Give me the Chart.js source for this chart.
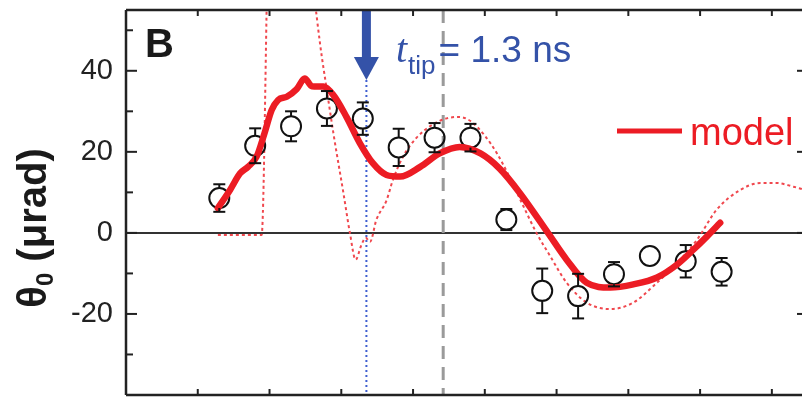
<!DOCTYPE html>
<html>
<head>
<meta charset="utf-8">
<script src="https://cdn.jsdelivr.net/npm/chart.js@4/dist/chart.umd.min.js"></script>
<style>
  html, body { margin: 0; padding: 0; background: #fff; }
  #wrap { width: 802px; height: 397px; }
</style>
</head>
<body>
<div id="wrap"><canvas id="chart"></canvas></div>
<script>
// measured points (open circles)
const dataX = [1.3, 1.8, 2.3, 2.8, 3.3, 3.8, 4.3, 4.8, 5.3, 5.8, 6.3, 6.8, 7.3, 7.8, 8.3]
const dataY = [8.6, 21.5, 26.3, 30.7, 28.2, 21.1, 23.5, 23.5, 3.3, -14.3, -15.6, -10.2, -5.7, -7.0, -9.6]
const dataErr = [3.4, 4.3, 3.7, 4.3, 4.0, 4.6, 3.6, 3.4, 2.6, 5.5, 5.5, 3.0, 2.0, 4.0, 3.4]

// model (thick red)
const modelX = [1.28, 1.45, 1.59, 1.70, 1.82, 1.93, 2.03, 2.12, 2.24, 2.38, 2.49, 2.59, 2.75, 2.89, 3.07, 3.26, 3.44, 3.63, 3.82, 4.10, 4.37, 4.65, 4.94, 5.21, 5.49, 5.88, 6.14, 6.42, 6.75, 7.07, 7.40, 7.68, 7.91, 8.10, 8.28]
const modelY = [6.1, 10.6, 14.7, 16.3, 18.8, 24.6, 30.3, 32.8, 33.6, 35.5, 38.1, 36.2, 36.1, 34.0, 28.7, 22.1, 17.2, 14.3, 13.9, 16.3, 19.6, 21.2, 19.6, 15.8, 9.8, 0, -6.6, -12.3, -13.5, -12.7, -11.0, -7.8, -4.1, -0.8, 2.5]

// dotted red curve
const calcX = [1.28, 1.5, 1.7, 1.89, 2.0, 2.4, 2.75, 2.89, 3.03, 3.12, 3.20, 3.28, 3.34, 3.40, 3.49, 3.63, 3.72, 3.86, 4.05, 4.28, 4.5, 4.65, 4.8, 5.0, 5.17, 5.31, 5.54, 5.72, 5.91, 6.14, 6.42, 6.75, 7.07, 7.35, 7.68, 7.96, 8.23, 8.56, 8.84, 9.07, 9.30, 9.42]
const calcY = [-0.5, -0.5, -0.5, -0.5, 80, 80, 40.9, 24.6, 9.8, 0, -6.6, -3, -1.2, -2.2, 3.3, 8, 13.1, 18.8, 23.5, 26.8, 28.4, 28.6, 27.6, 24, 19.6, 15, 6.5, 0, -5.7, -12.3, -17.2, -18.8, -17.2, -13.1, -7.4, -1.6, 5.7, 10.6, 12.3, 12.3, 11.4, 10.8]

const xTicks = [1, 2, 3, 4, 5, 6, 7, 8, 9]
const yMajorTicks = [40, 20, 0, -20]
const yMinorTicks = [50, 30, 10, -10, -30]

const tipTime = 3.35
const tipArrowBase = 43.4
const tipArrowEnd = 37.7
const markerTime = 4.42

const RED = '#ec1c24'
const BLUE = '#3452a8'
const FONT = '"Liberation Sans", Arial, sans-serif'

const toPoints = (xs, ys) => xs.map((x, i) => ({ x, y: ys[i] }))

const line = (ctx, x1, y1, x2, y2) => {
  ctx.beginPath()
  ctx.moveTo(x1, y1)
  ctx.lineTo(x2, y2)
  ctx.stroke()
}

// no extra room for tick labels, the layout is fixed
const noPad = (s) => {
  s.paddingTop = 0
  s.paddingBottom = 0
  s.paddingLeft = 0
  s.paddingRight = 0
}

const decorPlugin = {
  id: 'decor',
  beforeDatasetsDraw(chart) {
    const { ctx, chartArea: a, scales: { x, y } } = chart
    ctx.save()
    ctx.strokeStyle = '#9a9a9a'
    ctx.lineWidth = 3
    ctx.setLineDash([13, 8])
    const gx = x.getPixelForValue(markerTime)
    line(ctx, gx, a.top, gx, a.bottom)

    ctx.strokeStyle = '#3f5fd0'
    ctx.lineWidth = 2
    ctx.setLineDash([2, 3])
    const bx = x.getPixelForValue(tipTime)
    line(ctx, bx, y.getPixelForValue(tipArrowEnd), bx, a.bottom)
    ctx.restore()
  },
  afterDatasetsDraw(chart) {
    const { ctx, chartArea: a, scales: { x, y } } = chart
    ctx.save()

    // error bars, outside the circles only
    ctx.strokeStyle = '#111'
    ctx.lineWidth = 2
    const r = 10
    dataX.forEach((dx, i) => {
      const px = x.getPixelForValue(dx)
      const py = y.getPixelForValue(dataY[i])
      const top = y.getPixelForValue(dataY[i] + dataErr[i])
      const bot = y.getPixelForValue(dataY[i] - dataErr[i])
      if (top < py - r) {
        line(ctx, px, top, px, py - r)
        line(ctx, px - 6, top, px + 6, top)
      }
      if (bot > py + r) {
        line(ctx, px, py + r, px, bot)
        line(ctx, px - 6, bot, px + 6, bot)
      }
    })

    // arrow at t_tip
    const bx = x.getPixelForValue(tipTime)
    const hb = y.getPixelForValue(tipArrowBase)
    const ht = y.getPixelForValue(tipArrowEnd)
    ctx.fillStyle = BLUE
    ctx.fillRect(bx - 4.5, a.top, 9, hb - a.top)
    ctx.beginPath()
    ctx.moveTo(bx - 12.5, hb)
    ctx.lineTo(bx + 12.5, hb)
    ctx.lineTo(bx, ht)
    ctx.closePath()
    ctx.fill()

    // panel letter
    ctx.fillStyle = '#1a1a1a'
    ctx.textBaseline = 'alphabetic'
    ctx.textAlign = 'left'
    ctx.font = `bold 40px ${FONT}`
    ctx.fillText('B', 145, 57)

    // t_tip = 1.3 ns
    ctx.fillStyle = BLUE
    let tx = 396
    ctx.font = 'italic 40px "Liberation Serif", serif'
    ctx.fillText('t', tx, 62)
    tx += ctx.measureText('t').width + 1
    ctx.font = `26px ${FONT}`
    ctx.fillText('tip', tx, 74)
    tx += ctx.measureText('tip').width + 3
    ctx.font = `37px ${FONT}`
    ctx.fillText('= 1.3 ns', tx, 62)

    // legend
    ctx.strokeStyle = RED
    ctx.lineWidth = 5
    line(ctx, 617, 131, 682, 131)
    ctx.fillStyle = RED
    ctx.font = `38px ${FONT}`
    ctx.fillText('model', 690, 145)

    // y axis title
    ctx.save()
    ctx.translate(46, 228)
    ctx.rotate(-Math.PI / 2)
    ctx.fillStyle = '#1a1a1a'
    const big = `bold 40px ${FONT}`
    const small = `bold 24px ${FONT}`
    ctx.font = big
    const w1 = ctx.measureText('\u03b8').width
    const w3 = ctx.measureText(' (\u03bcrad)').width
    ctx.font = small
    const w2 = ctx.measureText('0').width
    let sx = -(w1 + w2 + w3) / 2
    ctx.font = big
    ctx.fillText('\u03b8', sx, 0)
    sx += w1
    ctx.font = small
    ctx.fillText('0', sx, 7)
    sx += w2
    ctx.font = big
    ctx.fillText(' (\u03bcrad)', sx, 0)
    ctx.restore()

    ctx.restore()
  },
  afterDraw(chart) {
    const { ctx, chartArea: a, scales: { x, y } } = chart
    ctx.save()
    ctx.strokeStyle = '#222'
    ctx.lineWidth = 2.5
    line(ctx, a.left, a.top, a.right, a.top)
    line(ctx, a.left, a.bottom, a.right, a.bottom)
    line(ctx, a.left, a.top, a.left, a.bottom)

    ctx.lineWidth = 2
    xTicks.forEach((t) => {
      const px = x.getPixelForValue(t)
      line(ctx, px, a.top, px, a.top + 6)
      line(ctx, px, a.bottom, px, a.bottom - 6)
    })
    yMajorTicks.forEach((t) => {
      const py = y.getPixelForValue(t)
      line(ctx, a.left, py, a.left + 11, py)
      line(ctx, a.right - 5, py, a.right, py)
    })
    yMinorTicks.forEach((t) => {
      const py = y.getPixelForValue(t)
      line(ctx, a.left, py, a.left + 7, py)
    })
    ctx.restore()
  }
}

new Chart(document.getElementById('chart'), {
  type: 'line',
  data: {
    datasets: [
      {
        label: 'model',
        data: toPoints(modelX, modelY),
        borderColor: RED,
        borderWidth: 6.5,
        pointRadius: 0,
        cubicInterpolationMode: 'monotone',
        borderCapStyle: 'round'
      },
      {
        label: 'data',
        data: toPoints(dataX, dataY),
        showLine: false,
        pointRadius: 10,
        pointBorderWidth: 2,
        pointBorderColor: '#111',
        pointBackgroundColor: 'rgba(0,0,0,0)'
      },
      {
        label: 'calc',
        data: toPoints(calcX, calcY),
        borderColor: '#f0484e',
        borderWidth: 2,
        borderDash: [3, 3],
        pointRadius: 0,
        cubicInterpolationMode: 'monotone'
      }
    ]
  },
  options: {
    responsive: true,
    maintainAspectRatio: false,
    animation: false,
    devicePixelRatio: 1,
    layout: {
      autoPadding: false,
      padding: { top: 10, right: 0, bottom: 2, left: 0 }
    },
    scales: {
      x: {
        type: 'linear',
        min: 0,
        max: 9.42,
        grid: { display: false },
        border: { display: false },
        ticks: { display: false },
        afterFit: (s) => {
          s.height = 0
          noPad(s)
        }
      },
      y: {
        min: -40,
        max: 55,
        border: { display: false },
        grid: {
          drawTicks: false,
          lineWidth: 2,
          color: (c) => (c.tick && c.tick.value === 0 ? '#333' : 'rgba(0,0,0,0)')
        },
        ticks: {
          stepSize: 10,
          padding: 13,
          color: '#222',
          font: { family: FONT, size: 29 },
          callback: (v) => (yMajorTicks.includes(v) ? String(v) : '')
        },
        afterFit: (s) => {
          s.width = 126
          noPad(s)
        }
      }
    },
    plugins: {
      legend: { display: false },
      tooltip: { enabled: false }
    }
  },
  plugins: [decorPlugin]
})
</script>
</body>
</html>
